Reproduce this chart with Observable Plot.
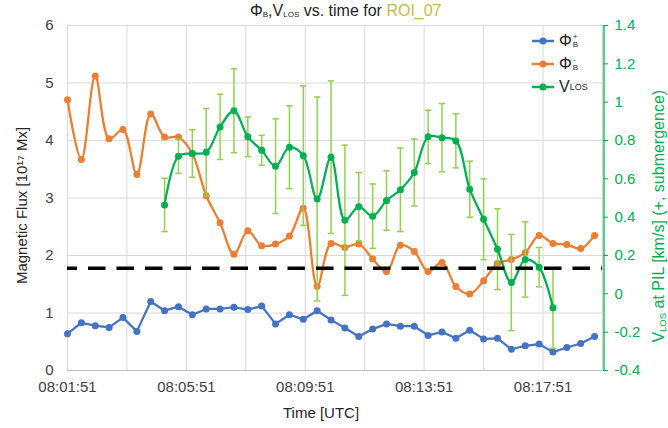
<!DOCTYPE html>
<html><head><meta charset="utf-8">
<script src="https://cdn.jsdelivr.net/npm/d3@7"></script>
<script src="https://cdn.jsdelivr.net/npm/@observablehq/plot@0.6"></script>
<style>
body{margin:0;background:#fff;font-family:"Liberation Sans",Arial,sans-serif;}
#wrap{position:relative;width:668px;height:428px;overflow:hidden;}
#chart{position:absolute;left:0;top:0;}
.abs{position:absolute;white-space:nowrap;line-height:1;}
.title{left:250px;top:3px;font-size:16px;color:#262626;}
.title sub{font-size:8px;vertical-align:-1px;}
.ylab{font-size:15px;color:#262626;}
.yrlab{font-size:16px;color:#00b050;}
.yrlab sub{font-size:9.5px;vertical-align:-2px;}
.xlab{font-size:15px;color:#262626;}
.leg{font-size:16px;color:#262626;display:flex;align-items:center;}
.leg svg{margin-right:4px;}
.ss{display:inline-flex;flex-direction:column;font-size:8px;line-height:8px;margin-left:1px;vertical-align:middle;}
.leg sub{font-size:9px;vertical-align:-2px;}
</style></head><body>
<div id="wrap">
  <div id="chart"></div>
  <div class="abs title">Φ<sub>B</sub>,V<sub>LOS</sub> vs. time for <span style="color:#c5bd3c">ROI_07</span></div>
  <div class="abs ylab" id="ylab">Magnetic Flux [10¹⁷ Mx]</div>
  <div class="abs yrlab" id="yrlab">V<sub>LOS</sub> at PIL [km/s] (+, submergence)</div>
  <div class="abs xlab" style="left:283px;top:405px">Time [UTC]</div>
  <div class="abs leg" style="left:531px;top:33px"><svg width="24" height="10"><line x1="1" y1="5" x2="23" y2="5" stroke="#4472c4" stroke-width="2.5"/><circle cx="12" cy="5" r="3.5" fill="#4472c4"/></svg>Φ<span class="ss"><span>+</span><span>B</span></span></div>
  <div class="abs leg" style="left:531px;top:56px"><svg width="24" height="10"><line x1="1" y1="5" x2="23" y2="5" stroke="#ed7d31" stroke-width="2.5"/><circle cx="12" cy="5" r="3.5" fill="#ed7d31"/></svg>Φ<span class="ss"><span>-</span><span>B</span></span></div>
  <div class="abs leg" style="left:531px;top:79px"><svg width="24" height="10"><line x1="1" y1="5" x2="23" y2="5" stroke="#00b050" stroke-width="2.5"/><circle cx="12" cy="5" r="3.5" fill="#00b050"/></svg>V<sub>LOS</sub></div>
</div>
<script>
// ---- data ----
const times = ["08:01:51","08:02:19","08:02:47","08:03:15","08:03:43","08:04:11","08:04:39","08:05:07","08:05:35","08:06:03",
  "08:06:31","08:06:59","08:07:27","08:07:55","08:08:23","08:08:51","08:09:19","08:09:47","08:10:15","08:10:43",
  "08:11:11","08:11:39","08:12:07","08:12:35","08:13:03","08:13:31","08:13:59","08:14:27","08:14:55","08:15:23",
  "08:15:51","08:16:19","08:16:47","08:17:15","08:17:43","08:18:11","08:18:39","08:19:07","08:19:35"];
const phiPos = [0.64,0.83,0.78,0.75,0.92,0.68,1.20,1.04,1.11,0.97,1.07,1.07,1.10,1.06,1.12,0.81,0.97,0.89,1.04,0.88,
  0.74,0.59,0.72,0.81,0.77,0.77,0.61,0.67,0.56,0.70,0.55,0.56,0.37,0.43,0.46,0.32,0.40,0.47,0.59];
const phiNeg = [4.71,3.67,5.12,4.03,4.19,3.41,4.46,4.06,4.06,3.77,3.04,2.57,2.02,2.43,2.17,2.20,2.34,2.82,1.46,2.21,
  2.14,2.20,1.94,1.72,2.18,2.07,1.72,1.88,1.46,1.33,1.56,1.86,1.93,2.05,2.35,2.21,2.19,2.12,2.35];
const vlosTimes = times.slice(7, 36);
const vlos = [0.464,0.718,0.732,0.739,0.871,0.955,0.819,0.749,0.666,0.765,0.721,0.495,0.713,0.384,0.455,0.405,0.487,
  0.543,0.633,0.819,0.815,0.798,0.546,0.389,0.233,0.059,0.179,0.139,-0.073];
const vlosErr = [0.139,0.089,0.124,0.228,0.17,0.219,0.103,0.078,0.247,0.216,0.364,0.532,0.398,0.392,0.178,0.168,0.155,
  0.218,0.175,0.139,0.178,0.141,0.146,0.211,0.211,0.251,0.196,0.103,0.21];
const threshold = 1.78;
const fluxTicks = [0,1,2,3,4,5,6];
const vTicks = [-0.4,-0.2,0,0.2,0.4,0.6,0.8,1,1.2,1.4];
const xLabelTicks = ["08:01:51","08:05:51","08:09:51","08:13:51","08:17:51"];
const xGridTicks = ["08:01:51","08:03:51","08:05:51","08:07:51","08:09:51","08:11:51","08:13:51","08:15:51","08:17:51","08:19:51"];

// ---- helpers ----
const toSec = s => { const [h,m,ss] = s.split(":").map(Number); return h*3600 + m*60 + ss; };
const fmtSec = s => { const p = n => String(n).padStart(2,"0"); return p(Math.floor(s/3600)) + ":" + p(Math.floor(s%3600/60)) + ":" + p(s%60); };
const vMin = -0.4, vMax = 1.4, fMax = 6;
const vToY = v => (v - vMin) * fMax / (vMax - vMin);
const yToV = y => Math.round((y * (vMax - vMin) / fMax + vMin) * 10) / 10;

const fluxData = times.map((t, i) => ({x: toSec(t), pos: phiPos[i], neg: phiNeg[i]}));
const vData = vlosTimes.map((t, i) => ({x: toSec(t), y: vToY(vlos[i]), y1: vToY(vlos[i] - vlosErr[i]), y2: vToY(vlos[i] + vlosErr[i])}));
const caps = vData.flatMap(d => [{x: d.x, y: d.y1}, {x: d.x, y: d.y2}]);
const capSymbol = {draw(ctx) { ctx.moveTo(-3.2, 0); ctx.lineTo(3.2, 0); }};

const blue = "#4472c4", orange = "#ed7d31", green = "#00b050", errC = "#92d050";
const xDomain = [toSec(xGridTicks[0]), toSec(xGridTicks[xGridTicks.length - 1])];

const plot = Plot.plot({
  width: 668, height: 428,
  marginLeft: 67, marginRight: 66, marginTop: 25, marginBottom: 58,
  style: {fontFamily: "Liberation Sans, Arial, sans-serif", fontSize: "15px", color: "#404040", background: "#fff"},
  x: {domain: xDomain},
  y: {domain: [0, fMax]},
  marks: [
    Plot.gridX({ticks: xGridTicks.map(toSec), stroke: "#d9d9d9", strokeOpacity: 1}),
    Plot.gridY({ticks: fluxTicks, stroke: "#d9d9d9", strokeOpacity: 1}),
    Plot.ruleY([0], {stroke: "#bfbfbf"}),
    Plot.axisY({ticks: fluxTicks, anchor: "left", tickSize: 0, tickPadding: 14, tickFormat: d => String(d), label: null, color: "#404040", fontSize: 15}),
    Plot.axisY({ticks: vTicks.map(vToY), anchor: "right", tickSize: 5, tickPadding: 7, tickFormat: y => String(yToV(y)), label: null, color: green, fontSize: 15}),
    Plot.axisX({ticks: xLabelTicks.map(toSec), tickFormat: fmtSec, tickSize: 0, tickPadding: 11, label: null, color: "#404040", fontSize: 15}),
    Plot.ruleX([xDomain[1]], {stroke: green, strokeWidth: 1.3, dx: 1.5}),
    Plot.line(fluxData, {x: "x", y: "pos", stroke: blue, strokeWidth: 2.25}),
    Plot.dot(fluxData, {x: "x", y: "pos", fill: blue, r: 3.5}),
    Plot.line(fluxData, {x: "x", y: "neg", stroke: orange, strokeWidth: 2.25, curve: "catmull-rom"}),
    Plot.dot(fluxData, {x: "x", y: "neg", fill: orange, r: 3.5}),
    Plot.ruleX(vData, {x: "x", y1: "y1", y2: "y2", stroke: errC, strokeWidth: 1.5}),
    Plot.dot(caps, {x: "x", y: "y", symbol: capSymbol, stroke: errC, strokeWidth: 1.5, fill: "none"}),
    Plot.line(vData, {x: "x", y: "y", stroke: green, strokeWidth: 2.25, curve: "catmull-rom"}),
    Plot.dot(vData, {x: "x", y: "y", fill: green, r: 3.5}),
    Plot.ruleY([threshold], {stroke: "#000", strokeWidth: 3.5, strokeDasharray: "17.5,11", strokeDashoffset: 7.5})
  ]
});
document.getElementById("chart").appendChild(plot);

// rotate axis titles around their centres
function placeRot(id, cx, cy) {
  const el = document.getElementById(id);
  const w = el.offsetWidth, h = el.offsetHeight;
  el.style.left = (cx - w / 2) + "px";
  el.style.top = (cy - h / 2) + "px";
  el.style.transform = "rotate(-90deg)";
}
placeRot("ylab", 21, 205);
placeRot("yrlab", 659, 216);
</script>
</body></html>
